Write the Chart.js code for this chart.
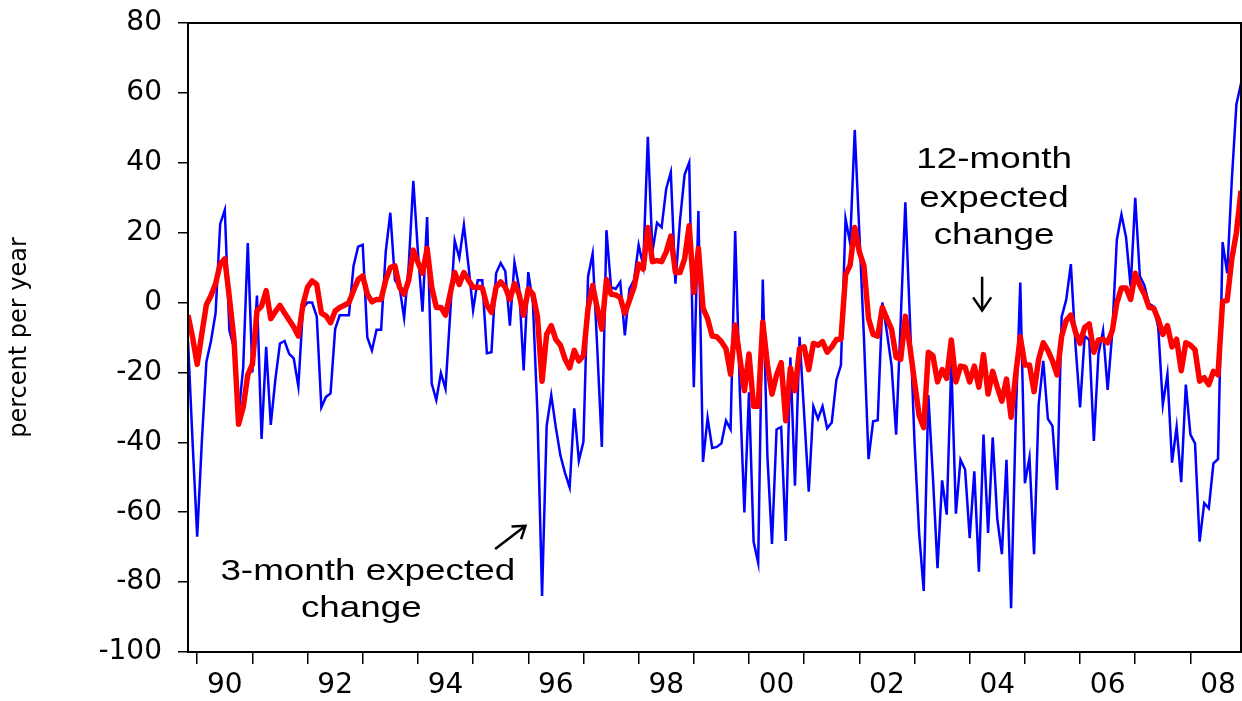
<!DOCTYPE html>
<html>
<head>
<meta charset="utf-8">
<script src="https://cdn.jsdelivr.net/npm/chart.js@4.4.1/dist/chart.umd.min.js"></script>
<style>html,body{margin:0;padding:0;background:#fff;}canvas{display:block;}</style>
</head>
<body>
<canvas id="c" width="1242" height="701"></canvas>
<script>
// ---- data (monthly, first observation 1989M11) ----
const startYear = 1989;
const startMonth = 11;
const yearLabels = ['90','92','94','96','98','00','02','04','06','08'];
const yTickValues = [-100,-80,-60,-40,-20,0,20,40,60,80];
const yAxisTitle = 'percent per year';

const threeMonth = [
 -11,-40,-67,-40,-17,-11,-3,22.5,26.5,-8,
 -13,-32,-18.7,17,-20,2,-39,-12.7,-35,-22,
 -11.7,-11,-14.7,-16,-24,-1.6,0,0,-4,-30,
 -27,-26,-7.6,-3.6,-3.6,-3.6,10.5,16,16.5,-10,
 -13.7,-7.8,-7.8,14.5,25.7,6.4,4.4,-4.4,10.5,34.8,
 14.5,-2.6,24.5,-23.2,-27.9,-20.2,-24.7,-3.6,17.7,12.8,
 22.2,10.5,-2.2,6.4,6.4,-14.5,-14.2,8.4,11.3,9,
 -6.6,11.5,4.4,-19.4,8.7,0,-32,-84,-35.3,-26.5,
 -35.8,-43.8,-48.8,-52.9,-30.3,-45.3,-39.8,7.4,14,-13,
 -41.3,20.7,4.4,3.9,5.9,-9.4,3.9,6.4,16.5,10.5,
 47.4,14.5,22.8,21.5,32.6,37.3,5.4,23.5,36.6,40.1,
 -24.2,26.2,-45.6,-33,-41.6,-41.3,-40.3,-33.8,-36.3,20.5,
 -25,-60.1,-25.7,-68.4,-74.5,6.6,-43.8,-69.1,-36.3,-35.6,
 -68.2,-15.7,-52.4,-9.8,-32,-54.1,-29.7,-33.3,-29.7,-36,
 -34.3,-22.2,-17.9,24,17,49.4,20,-10,-44.8,-34,
 -33.7,0,-8.6,-18,-37.8,-5,28.7,-5,-40,-66,
 -82.5,-26.5,-50,-76,-50.9,-60.7,-17.2,-60.4,-45,-47.8,
 -67.4,-48.3,-77,-37.8,-65.9,-38.6,-61.9,-72,-45,-87.5,
 -33.8,5.7,-51.7,-44.3,-72,-29.2,-16.7,-33.3,-35.3,-53.6,
 -4.1,0.9,11,-12,-30,-9.6,-10.7,-39.6,-14.7,-8.1,
 -25,-8.6,18,25.2,18.7,4.4,30,7.6,4.9,-0.4,
 -1.1,-7.1,-29.2,-20.5,-45.8,-35.6,-51.4,-23.5,-37.8,-40.3,
 -68.4,-57.4,-58.9,-46,-44.8,17.3,8.4,35,56.7,62.7
];

const twelveMonth = [
 -3.6,-10,-17.7,-9,-0.6,2,5.4,11,12.5,1.4,
 -10.6,-34.8,-30,-20.7,-17.7,-2.4,-1,3.4,-4.6,-2.6,
 -0.8,-3,-5,-7,-9.6,-0.6,4.4,6.2,5.2,-3,
 -3.8,-5.8,-2.4,-1.4,-0.8,0,3.4,6.6,7.6,2.4,
 0.2,0.9,0.9,6.4,10,10.5,4.4,2.4,6.4,15,
 11.5,8.4,15.5,4.4,-1.4,-1.4,-3.6,2.4,8.6,5.2,
 8.6,6.4,4.4,4.4,4.2,-0.8,-2.8,4.4,5.9,4.4,
 0.9,5.4,2.4,-3.6,3.9,2.4,-4,-22.5,-9.1,-6.6,
 -10.6,-12.2,-16.2,-18.7,-13.7,-16.7,-15.2,-1.6,4.9,-1.6,
 -7.6,6.6,2.4,2.2,1.4,-3.1,0.6,4.4,11,9.6,
 21.5,11.7,12,11.7,14.5,19,8.6,8.6,12.5,22,
 2.9,15.5,-1.6,-4.6,-9.6,-9.8,-11.2,-13.2,-20.5,-6.4,
 -15.7,-25.2,-14.7,-29.7,-29.7,-5.6,-17.7,-26.2,-20.7,-17.2,
 -33.8,-18.7,-25.2,-13.2,-12.7,-19.2,-11.7,-12.2,-11.2,-14.2,
 -12.7,-10.6,-10.5,7.9,10.7,21.5,14.5,10.5,-4.6,-9.1,
 -9.6,-1.4,-4.6,-7.6,-15.7,-16.2,-3.9,-12.7,-22.7,-32.3,
 -35.8,-14.2,-15.2,-22.7,-19.2,-21.7,-10.7,-22.7,-18.2,-18.5,
 -22.7,-18.2,-24.2,-14.9,-26.2,-19.7,-24.2,-28.2,-21.9,-32.8,
 -20.7,-9.8,-17.9,-17.9,-25.5,-16.2,-11.5,-13.7,-16.7,-20.7,
 -9.6,-5.1,-3.6,-8.4,-11.7,-7.1,-6.1,-14.2,-10.7,-10.5,
 -11.5,-8.1,-0.1,4.2,4.2,0.9,8.4,4.9,2.4,-1.4,
 -1.6,-4.8,-9.1,-6.6,-12.7,-10.5,-19.5,-11.5,-12.2,-13.5,
 -22.5,-21.5,-23.5,-19.7,-20.7,0.4,0.6,12.5,20,32
];

// annotation texts with anchors in data space (month index, value)
const notes12 = { lines: ['12-month','expected','change'], x: 175.3, y: [38.6, 27.4, 16.8] };
const notes3 = { lines: ['3-month expected','change'], x: [39.1, 37.7], y: [-79.5, -90.1] };
const arrow12 = { from: [172.7, 7.4], to: [172.7, -2.3] };
const arrow3 = { from: [66.8, -70.5], to: [73.4, -63.9] };

// ---- derived helpers ----
const monthLabels = threeMonth.map((_, i) => {
  const t = startMonth - 1 + i;
  return (startYear + Math.floor(t / 12)) + 'M' + (t % 12 + 1);
});
const janIdx = [];
monthLabels.forEach((m, i) => { if (/M1$/.test(m)) janIdx.push(i); });
const labelPos = {};
yearLabels.forEach(lbl => {
  const yr = (parseInt(lbl, 10) < 50 ? 2000 : 1900) + parseInt(lbl, 10);
  const i = monthLabels.indexOf(yr + 'M1');
  if (i >= 0) labelPos[i + 6] = lbl;
});
const janSet = new Set(janIdx);

const pts = arr => arr.map((v, i) => ({ x: i, y: v }));

const framePlugin = {
  id: 'frame',
  afterDraw(chart) {
    const { ctx, chartArea: a } = chart;
    ctx.save();
    ctx.strokeStyle = '#000';
    ctx.lineWidth = 2;
    ctx.strokeRect(a.left, a.top, a.right - a.left, a.bottom - a.top);
    ctx.restore();
  }
};

function drawArrow(ctx, x1, y1, x2, y2, head) {
  const ang = Math.atan2(y2 - y1, x2 - x1);
  ctx.beginPath();
  ctx.moveTo(x1, y1); ctx.lineTo(x2, y2);
  ctx.moveTo(x2 - head * Math.cos(ang - 0.6), y2 - head * Math.sin(ang - 0.6));
  ctx.lineTo(x2, y2);
  ctx.lineTo(x2 - head * Math.cos(ang + 0.6), y2 - head * Math.sin(ang + 0.6));
  ctx.stroke();
}

const notePlugin = {
  id: 'notes',
  afterDatasetsDraw(chart) {
    const { ctx } = chart;
    const xs = chart.scales.x, ys = chart.scales.y;
    const sx = 1.27;
    ctx.save();
    ctx.fillStyle = '#000';
    ctx.font = '29px "Liberation Sans", Arial, sans-serif';
    ctx.textAlign = 'center';
    ctx.textBaseline = 'alphabetic';
    const put = (txt, xv, yv) => {
      const px = xs.getPixelForValue(xv), py = ys.getPixelForValue(yv);
      ctx.save(); ctx.translate(px, py); ctx.scale(sx, 1); ctx.fillText(txt, 0, 0); ctx.restore();
    };
    notes12.lines.forEach((t, k) => put(t, notes12.x, notes12.y[k]));
    notes3.lines.forEach((t, k) => put(t, notes3.x[k], notes3.y[k]));
    ctx.strokeStyle = '#000';
    ctx.lineWidth = 2.5;
    drawArrow(ctx, xs.getPixelForValue(arrow12.from[0]), ys.getPixelForValue(arrow12.from[1]),
                   xs.getPixelForValue(arrow12.to[0]), ys.getPixelForValue(arrow12.to[1]), 16);
    drawArrow(ctx, xs.getPixelForValue(arrow3.from[0]), ys.getPixelForValue(arrow3.from[1]),
                   xs.getPixelForValue(arrow3.to[0]), ys.getPixelForValue(arrow3.to[1]), 14);
    ctx.restore();
  }
};

new Chart(document.getElementById('c'), {
  type: 'line',
  data: {
    datasets: [
      { label: '12-month expected change', data: pts(twelveMonth), borderColor: '#ff0000',
        borderWidth: 5.5, pointRadius: 0, tension: 0, borderJoinStyle: 'round', fill: false },
      { label: '3-month expected change', data: pts(threeMonth), borderColor: '#0000ff',
        borderWidth: 2.5, pointRadius: 0, tension: 0, fill: false }
    ]
  },
  options: {
    responsive: false,
    animation: false,
    devicePixelRatio: 1,
    layout: { padding: { left: 0, right: 1, top: 23, bottom: 0 } },
    plugins: { legend: { display: false }, tooltip: { enabled: false } },
    scales: {
      x: {
        type: 'linear',
        min: 0,
        max: threeMonth.length - 1,
        afterBuildTicks(scale) {
          const vals = janIdx.concat(Object.keys(labelPos).map(Number)).sort((a, b) => a - b);
          scale.ticks = vals.map(v => ({ value: v }));
        },
        afterFit(scale) { scale.height = 49; scale.paddingLeft = 0; scale.paddingRight = 0; },
        ticks: {
          autoSkip: false, maxRotation: 0, minRotation: 0,
          color: '#000', padding: 5,
          font: { family: '"DejaVu Sans", sans-serif', size: 28 },
          callback: v => (labelPos[v] !== undefined ? labelPos[v] : '')
        },
        grid: {
          drawOnChartArea: false, drawTicks: true, tickLength: 12, lineWidth: 1.5,
          color: c => (c.tick && janSet.has(c.tick.value) ? '#000' : 'rgba(0,0,0,0)'),
          tickColor: c => (c.tick && janSet.has(c.tick.value) ? '#000' : 'rgba(0,0,0,0)')
        },
        border: { display: true, color: '#000', width: 2 }
      },
      y: {
        min: -100, max: 80,
        afterBuildTicks(scale) { scale.ticks = yTickValues.map(v => ({ value: v })); },
        afterFit(scale) { scale.width = 188; scale.paddingTop = 0; scale.paddingBottom = 0; },
        ticks: {
          color: '#000', padding: 16,
          font: { family: '"DejaVu Sans", sans-serif', size: 28 }
        },
        title: {
          display: true, text: yAxisTitle, color: '#000', padding: { top: 5, bottom: 0 },
          font: { family: '"DejaVu Sans", sans-serif', size: 24 }
        },
        grid: { drawOnChartArea: false, drawTicks: true, tickLength: 10, lineWidth: 1.5, color: '#000', tickColor: '#000' },
        border: { display: true, color: '#000', width: 2 }
      }
    }
  },
  plugins: [framePlugin, notePlugin]
});
</script>
</body>
</html>
